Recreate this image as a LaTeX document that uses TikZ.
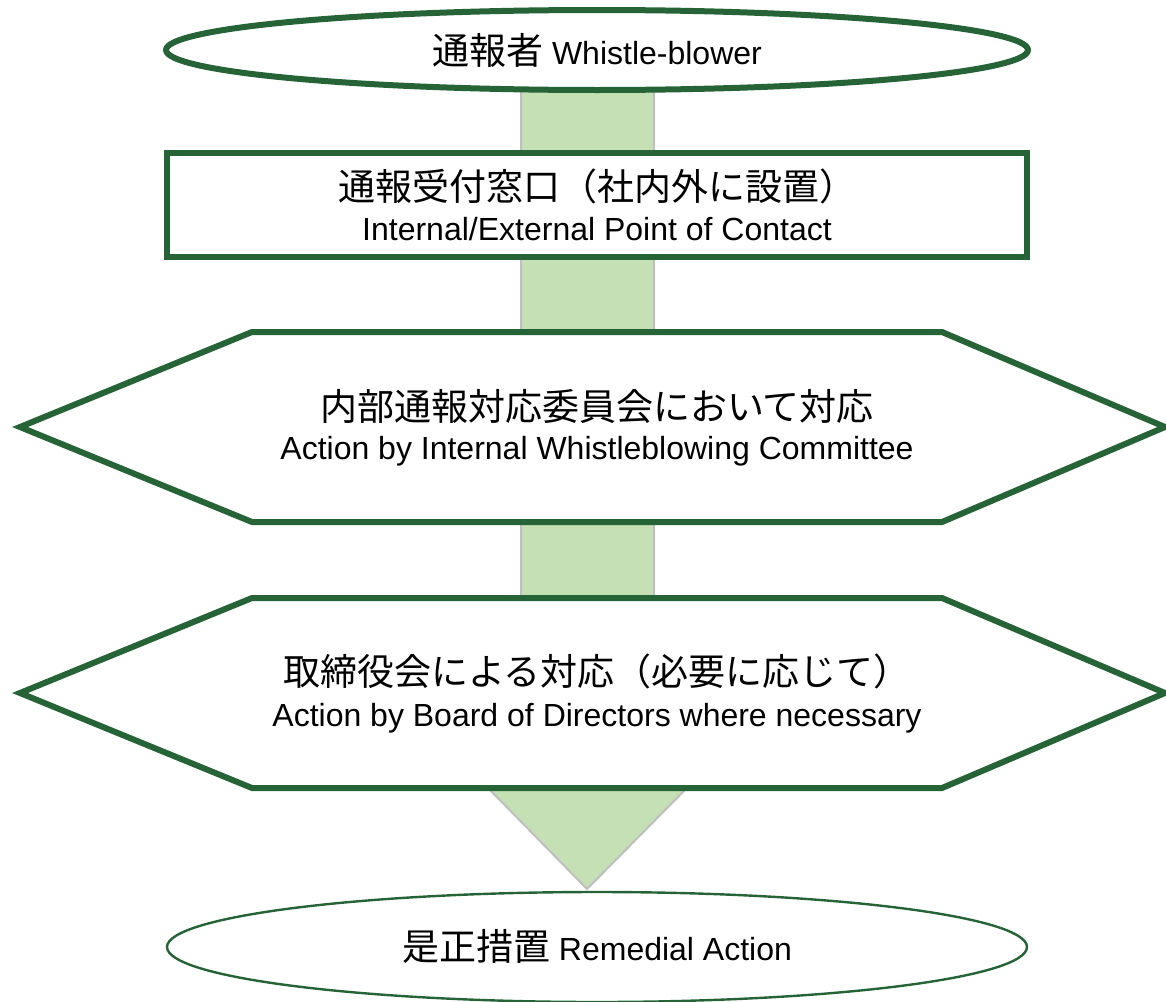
\documentclass[tikz,border=0pt]{standalone}
\usepackage{fontspec}
\setmainfont{Liberation Sans}
\newfontfamily\jp{Noto Sans CJK JP}
\definecolor{dkgreen}{RGB}{38,100,56}
\definecolor{ltgreen}{RGB}{197,224,180}
\definecolor{bargray}{RGB}{191,191,191}
\begin{document}
\begin{tikzpicture}[x=0.5pt,y=-0.5pt,
  shapeline/.style={draw=dkgreen,line width=3pt,fill=white,line join=miter},
  jptext/.style={font=\jp\fontsize{18.5pt}{22pt}\selectfont,inner sep=0pt},
  entext/.style={font=\fontsize{16pt}{19pt}\selectfont,inner sep=0pt},
  mixtext/.style={font=\fontsize{16pt}{19pt}\selectfont,inner sep=0pt}]
\useasboundingbox (0,0) rectangle (1166,1001);
% flow arrow (background)
\coordinate (arrowtop) at (587,90);
\coordinate (arrowtip) at (587,889);
\filldraw[fill=ltgreen,draw=bargray,line width=1pt,line join=miter]
  (521,90) -- (654,90) -- (654,789) -- (686,789) -- (arrowtip) -- (489,789) -- (521,789) -- cycle;
% top ellipse
\draw[shapeline] (597,50) ellipse [x radius=431,y radius=40];
\node[mixtext] (whistle) at (597,50) {{\jp\fontsize{18.5pt}{22pt}\selectfont 通報者} Whistle-blower};
% rectangle
\draw[shapeline] (167,153) rectangle (1027,257);
\node[jptext] (contactjp) at (597,186) {通報受付窓口（社内外に設置）};
\node[entext] (contacten) at (597,229) {Internal/External Point of Contact};
% hexagon 1
\draw[shapeline] (20,427) -- (252,332) -- (942,332) -- (1165,427) -- (942,522) -- (252,522) -- cycle;
\node[jptext] (committeejp) at (597,406) {内部通報対応委員会において対応};
\node[entext] (committeeen) at (597,451) {Action by Internal Whistleblowing Committee};
% hexagon 2
\draw[shapeline] (20,693) -- (252,598) -- (942,598) -- (1165,693) -- (942,788) -- (252,788) -- cycle;
\node[jptext] (boardjp) at (597,671) {取締役会による対応（必要に応じて）};
\node[entext] (boarden) at (597,718) {Action by Board of Directors where necessary};
% bottom ellipse
\draw[draw=dkgreen,line width=1.2pt,fill=white] (597,947) ellipse [x radius=430,y radius=55];
\node[mixtext] (remedial) at (597,946) {{\jp\fontsize{18.5pt}{22pt}\selectfont 是正措置} Remedial Action};
\end{tikzpicture}
\end{document}
